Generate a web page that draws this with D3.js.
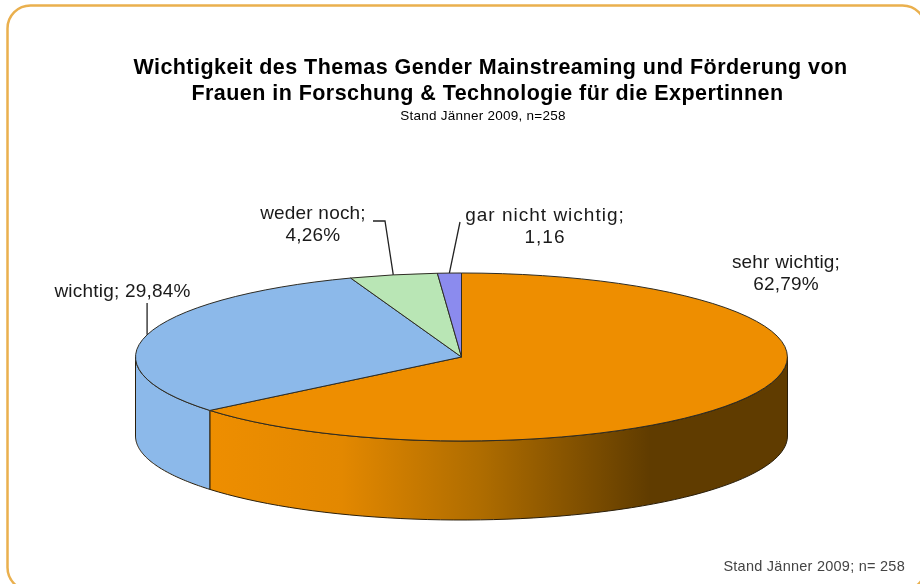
<!DOCTYPE html>
<html>
<head>
<meta charset="utf-8">
<script src="https://cdn.jsdelivr.net/npm/d3@7"></script>
<style>
    html, body { margin: 0; padding: 0; background: #fff; overflow: hidden; }
    svg { display: block; font-family: "Liberation Sans", Arial, sans-serif; filter: blur(0.4px); }
</style>
</head>
<body>
<svg width="920" height="584"></svg>
<script>
// values as printed on the chart, the slices do not add up to 100
const categories = ['sehr wichtig', 'wichtig', 'weder noch', 'gar nicht wichtig'];
const values = [62.79, 29.84, 4.26, 1.16];
const valueLabels = ['62,79%', '29,84%', '4,26%', '1,16'];
const colors = ['#ee8e00', '#8cb9ea', '#b9e6b5', '#8b8bee'];
const titleLines = [
    'Wichtigkeit des Themas Gender Mainstreaming und Förderung von',
    'Frauen in Forschung & Technologie für die Expertinnen'
];
const subtitle = 'Stand Jänner 2009, n=258';
const footer = 'Stand Jänner 2009; n= 258';

const cx = 461.5, cy = 357, rx = 326, ry = 84, depth = 79;

const svg = d3.select('svg');
const defs = svg.append('defs');

// orange wall goes dark towards the right
const grad = defs.append('linearGradient')
    .attr('id', 'wallOrange')
    .attr('gradientUnits', 'userSpaceOnUse')
    .attr('x1', 209).attr('x2', 650).attr('y1', 0).attr('y2', 0);
grad.append('stop').attr('offset', 0).attr('stop-color', '#ee8e00');
grad.append('stop').attr('offset', 0.3).attr('stop-color', '#e38800');
grad.append('stop').attr('offset', 0.62).attr('stop-color', '#ae6c00');
grad.append('stop').attr('offset', 1).attr('stop-color', '#603c00');

svg.append('rect')
    .attr('x', 7.5).attr('y', 5.5)
    .attr('width', 918).attr('height', 585)
    .attr('rx', 23)
    .attr('fill', '#fff')
    .attr('stroke', '#eab04e')
    .attr('stroke-width', 2.5);

const pie = d3.pie().sort(null).value(d => d)(values);

// point on the top ellipse, angle clockwise from 12 o'clock like d3.arc
function rim(a, dy) {
    return [cx + rx * Math.sin(a), cy - ry * Math.cos(a) + (dy || 0)];
}

function wallPath(a0, a1) {
    const steps = 60;
    const angles = d3.range(steps + 1).map(i => a0 + (a1 - a0) * i / steps);
    const top = angles.map(a => rim(a, 0));
    const bottom = angles.map(a => rim(a, depth)).reverse();
    return d3.line()(top.concat(bottom)) + 'Z';
}

// only the front half of the cylinder is visible
const walls = svg.append('g');
pie.forEach(function(d, i) {
    const a0 = Math.max(d.startAngle, Math.PI / 2);
    const a1 = Math.min(d.endAngle, Math.PI * 1.5);
    if (a1 <= a0) return;
    walls.append('path')
        .attr('d', wallPath(a0, a1))
        .attr('fill', i == 0 ? 'url(#wallOrange)' : colors[i])
        .attr('stroke', '#2a1e0a')
        .attr('stroke-width', 1);
});

const arc = d3.arc().innerRadius(0).outerRadius(1);

svg.append('g')
    .attr('transform', `translate(${cx},${cy}) scale(${rx},${ry})`)
    .selectAll('path')
    .data(pie)
    .enter()
    .append('path')
    .attr('d', arc)
    .attr('fill', (d, i) => colors[i])
    .attr('stroke', '#2e2c24')
    .attr('stroke-width', 1)
    .attr('vector-effect', 'non-scaling-stroke');

// title
const title = svg.append('g').attr('fill', '#000').attr('text-anchor', 'middle');
titleLines.forEach(function(t, i) {
    title.append('text')
        .attr('x', i == 0 ? 490.5 : 487.5)
        .attr('y', 74 + i * 25.5)
        .attr('font-size', 21.5)
        .attr('font-weight', 'bold')
        .attr('letter-spacing', 0.45)
        .text(t);
});
title.append('text')
    .attr('x', 483).attr('y', 120)
    .attr('font-size', 13.5)
    .attr('letter-spacing', 0.25)
    .text(subtitle);

// leader lines start at the middle of each slice on the rim
function mid(d) { return (d.startAngle + d.endAngle) / 2; }
const leaders = [
    null,
    d => [[rim(mid(d))[0], 303]],
    d => [[385, 221], [373, 221]],
    d => [[460, 222]]
];
pie.forEach(function(d, i) {
    if (!leaders[i]) return;
    svg.append('path')
        .attr('d', d3.line()([rim(mid(d))].concat(leaders[i](d))))
        .attr('fill', 'none')
        .attr('stroke', '#222')
        .attr('stroke-width', 1.3);
});

// data labels
const labels = svg.append('g')
    .attr('fill', '#1a1a1a')
    .attr('font-size', 19)
    .attr('text-anchor', 'middle');
const labelLines = [
    [categories[0] + ';', valueLabels[0]],
    [categories[1] + '; ' + valueLabels[1]],
    [categories[2] + ';', valueLabels[2]],
    [categories[3] + ';', valueLabels[3]]
];
const labelX = [786, 122.5, 313, 545];
const labelY = [268, 297, 219, 221];
const labelSpacing = [0.2, 0.2, 0.2, 1];
labelLines.forEach(function(lines, i) {
    lines.forEach(function(t, j) {
        labels.append('text')
            .attr('x', labelX[i])
            .attr('y', labelY[i] + j * 22)
            .attr('letter-spacing', labelSpacing[i])
            .text(t);
    });
});

svg.append('text')
    .attr('x', 905).attr('y', 571)
    .attr('text-anchor', 'end')
    .attr('font-size', 14.5)
    .attr('letter-spacing', 0.25)
    .attr('fill', '#444')
    .text(footer);
</script>
</body>
</html>
